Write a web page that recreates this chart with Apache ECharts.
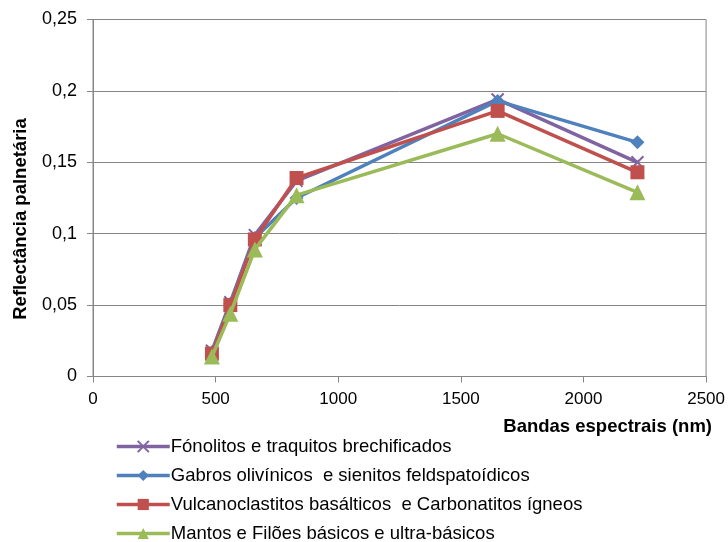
<!DOCTYPE html>
<html>
<head>
<meta charset="utf-8">
<script src="https://cdn.jsdelivr.net/npm/echarts@6/dist/echarts.min.js"></script>
<style>html,body{margin:0;padding:0;background:#fff}#c{width:728px;height:542px}</style>
</head>
<body>
<div id="c"></div>
<script>
const bands = [485, 560, 660, 830, 1650, 2220];
const seriesNames = [
  'Fónolitos e traquitos brechificados',
  'Gabros olivínicos  e sienitos feldspatoídicos',
  'Vulcanoclastitos basálticos  e Carbonatitos ígneos',
  'Mantos e Filões básicos e ultra-básicos'
];
const fonolitos = [0.018, 0.052, 0.099, 0.137, 0.194, 0.150];
const gabros = [0.017, 0.051, 0.097, 0.125, 0.193, 0.164];
const vulcano = [0.016, 0.050, 0.096, 0.139, 0.186, 0.143];
const mantos = [0.014, 0.044, 0.089, 0.127, 0.170, 0.129];
const xTitle = 'Bandas espectrais (nm)';
const yTitle = 'Reflectância palnetária';

const colors = ['#8064A2', '#4F81BD', '#C0504D', '#9BBB59'];
const symbols = ['path://M0,0L10,10M10,0L0,10', 'diamond', 'rect', 'triangle'];
const sizes = [12, 14, 14, 16];
const values = [fonolitos, gabros, vulcano, mantos];
const FONT = '"Liberation Sans", Arial, sans-serif';
const gray = '#868686';

const chart = echarts.init(document.getElementById('c'), null, {renderer: 'canvas'});
chart.setOption({
  animation: false,
  textStyle: {fontFamily: FONT},
  grid: {left: 93, right: 21, top: 19.5, bottom: 165.5, show: true, borderColor: gray, borderWidth: 1},
  xAxis: {
    type: 'value', min: 0, max: 2500, interval: 500,
    axisLine: {lineStyle: {color: gray, width: 1}},
    axisTick: {show: true, length: 6, lineStyle: {color: gray}},
    splitLine: {show: false},
    axisLabel: {color: '#000', fontSize: 17, fontFamily: FONT, margin: 14,
      formatter: v => String(v)}
  },
  yAxis: {
    type: 'value', min: 0, max: 0.25, interval: 0.05,
    axisLine: {show: true, lineStyle: {color: gray, width: 1}},
    axisTick: {show: true, length: 6, lineStyle: {color: gray}},
    splitLine: {show: true, lineStyle: {color: gray, width: 1}},
    axisLabel: {color: '#000', fontSize: 18, fontFamily: FONT, margin: 16,
      formatter: v => String(+v.toFixed(2)).replace('.', ',')}
  },
  legend: {
    orient: 'vertical', left: 115, top: 437, height: 400, padding: 0,
    itemWidth: 53, itemHeight: 14, itemGap: 10,
    lineStyle: {width: 3.5},
    textStyle: {fontSize: 18.5, fontFamily: FONT, color: '#000', lineHeight: 18, padding: [0, 0, 0, -4]},
    data: seriesNames
  },
  graphic: [
    {type: 'text', x: 21, y: 219, rotation: Math.PI / 2,
      style: {text: yTitle, font: 'bold 18.5px ' + FONT, fill: '#000', textAlign: 'center', textVerticalAlign: 'middle'}},
    {type: 'text', x: 712, y: 427,
      style: {text: xTitle, font: 'bold 18.5px ' + FONT, fill: '#000', textAlign: 'right', textVerticalAlign: 'middle'}}
  ],
  series: seriesNames.map((name, i) => ({
    name: name, type: 'line',
    data: bands.map((b, j) => [b, values[i][j]]),
    symbol: symbols[i], symbolSize: sizes[i], showSymbol: true,
    lineStyle: {color: colors[i], width: 3.5},
    itemStyle: i === 0 ? {color: colors[i], borderColor: colors[i], borderWidth: 2} : {color: colors[i], borderColor: colors[i], borderWidth: 0},
    z: 2 + i
  }))
});
</script>
</body>
</html>
